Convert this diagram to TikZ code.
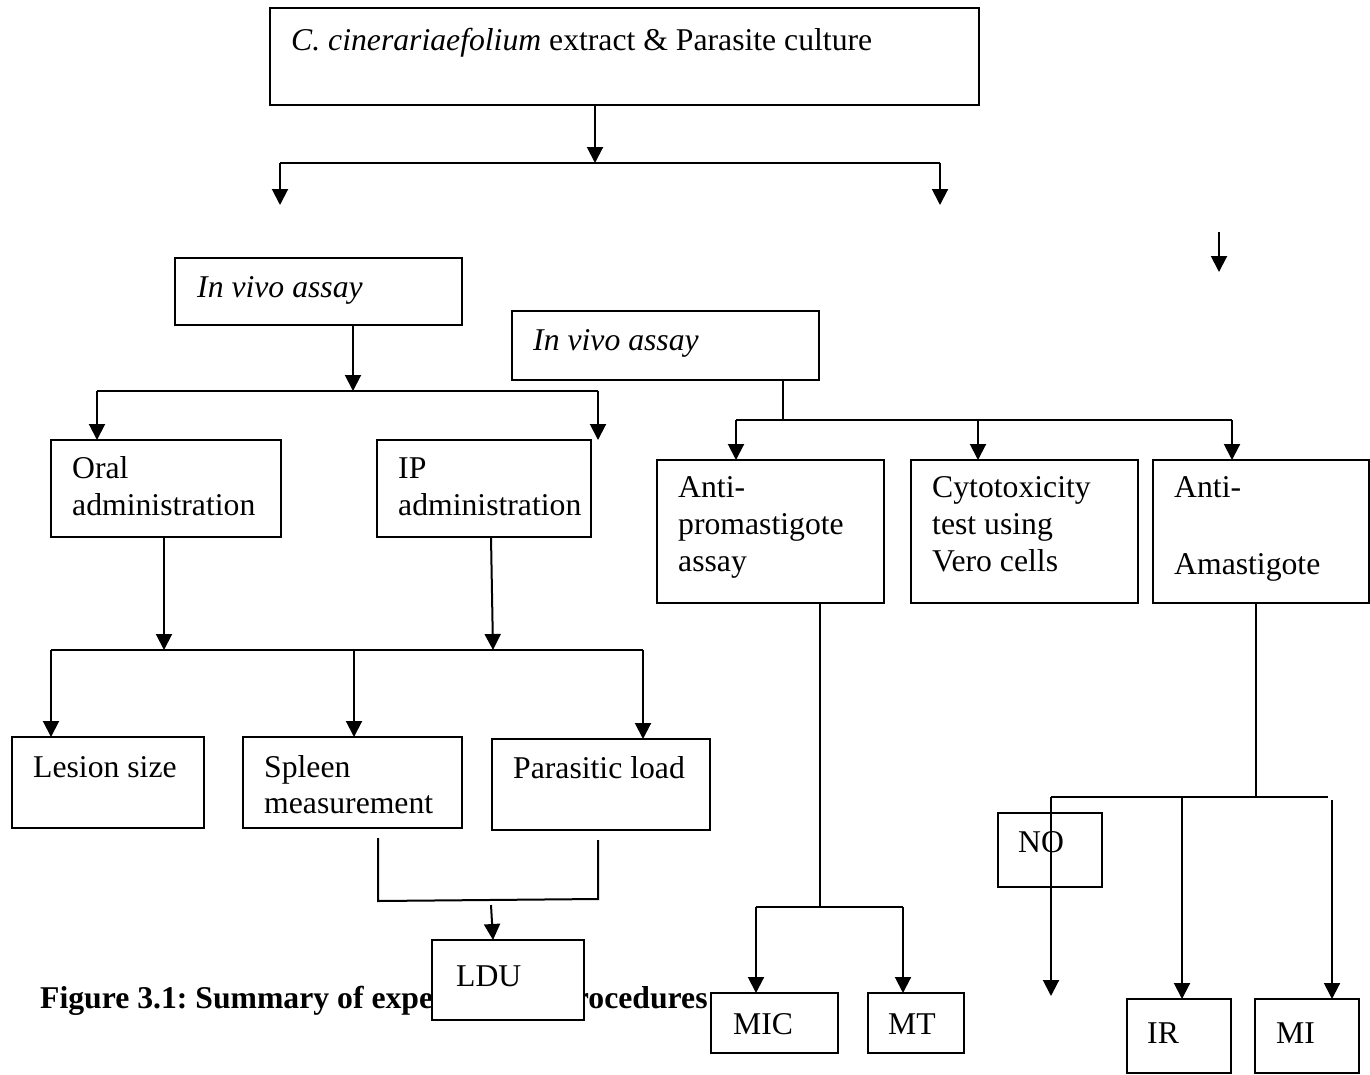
\documentclass[tikz,border=0pt]{standalone}
\usepackage{fontspec}
\setmainfont{Liberation Serif}
\usetikzlibrary{arrows.meta}
\frenchspacing
\begin{document}
\begin{tikzpicture}[x=1pt,y=-1pt,
  every node/.style={font=\fontsize{31.7}{38}\selectfont},
  bx/.style={draw,line width=2pt,fill=white,inner sep=0pt,outer sep=0pt,anchor=north west},
  txt/.style={anchor=base west,inner sep=0pt},
  ln/.style={line width=2pt},
  arr/.style={line width=2pt,-{Triangle[length=16pt,width=16pt]}}]
\newcommand\bx[5]{\node[bx,minimum width={#4-#2},minimum height={#5-#3}] (#1) at (#2,#3) {};}
\useasboundingbox (0,0) rectangle (1370,1074);

% top
\bx{top}{270}{8}{979}{105}
\node[txt] (ttop) at (291,50) {\textit{C. cinerariaefolium} extract \& Parasite culture};
\coordinate (j1) at (595,163);
\coordinate (hL) at (280,163); \coordinate (hR) at (940,163);
\coordinate (tL) at (280,205); \coordinate (tR) at (940,205);
\draw[arr] (top.south -| j1) -- (j1);
\draw[ln] (hL) -- (hR);
\draw[arr] (hL) -- (tL);
\draw[arr] (hR) -- (tR);
\coordinate (s1) at (1219,232); \coordinate (s2) at (1219,272);
\draw[arr] (s1) -- (s2);

% in vivo 1
\bx{ivo1}{175}{258}{462}{325}
\node[txt] (tivo1) at (197,297) {\textit{In vivo assay}};
\coordinate (j2) at (353,391);
\coordinate (j2L) at (97,391); \coordinate (j2R) at (598,391);
\bx{oral}{51}{440}{281}{537}
\bx{ip}{377}{440}{591}{537}
\draw[arr] (ivo1.south -| j2) -- (j2);
\draw[ln] (j2L) -- (j2R);
\draw[arr] (j2L) -- (j2L |- oral.north);
\draw[arr] (j2R) -- (j2R |- ip.north);
\node[txt] (toral1) at (72,478) {Oral};
\node[txt] (toral2) at (72,515) {administration};
\node[txt] (tip1) at (398,478) {IP};
\node[txt] (tip2) at (398,515) {administration};

% in vivo 2
\bx{ivo2}{512}{311}{819}{380}
\node[txt] (tivo2) at (533,350) {\textit{In vivo assay}};
\coordinate (j3) at (783,420);
\coordinate (j3L) at (736,420); \coordinate (j3M) at (978,420); \coordinate (j3R) at (1232,420);
\bx{ap}{657}{460}{884}{603}
\bx{cy}{911}{460}{1138}{603}
\bx{aa}{1153}{460}{1369}{603}
\draw[ln] (ivo2.south -| j3) -- (j3);
\draw[ln] (j3L) -- (j3R);
\draw[arr] (j3L) -- (j3L |- ap.north);
\draw[arr] (j3M) -- (j3M |- cy.north);
\draw[arr] (j3R) -- (j3R |- aa.north);
\node[txt] (tap1) at (678,497) {Anti-};
\node[txt] (tap2) at (678,534) {promastigote};
\node[txt] (tap3) at (678,571) {assay};
\node[txt] (tcy1) at (932,497) {Cytotoxicity};
\node[txt] (tcy2) at (932,534) {test using};
\node[txt] (tcy3) at (932,571) {Vero cells};
\node[txt] (taa1) at (1174,497) {Anti-};
\node[txt] (taa2) at (1174,574) {Amastigote};

% oral / ip merge
\coordinate (j4a) at (164,650); \coordinate (j4b) at (493,650);
\coordinate (j4L) at (51,650); \coordinate (j4M) at (354,650); \coordinate (j4R) at (643,650);
\bx{les}{12}{737}{204}{828}
\bx{spl}{243}{737}{462}{828}
\bx{par}{492}{739}{710}{830}
\draw[arr] (oral.south -| j4a) -- (j4a);
\draw[arr] (491,537) -- (j4b);
\draw[ln] (j4L) -- (j4R);
\draw[arr] (j4L) -- (j4L |- les.north);
\draw[arr] (j4M) -- (j4M |- spl.north);
\draw[arr] (j4R) -- (j4R |- par.north);
\node[txt] (tles) at (33,777) {Lesion size};
\node[txt] (tspl1) at (264,777) {Spleen};
\node[txt] (tspl2) at (264,813) {measurement};
\node[txt] (tpar) at (513,778) {Parasitic load};

% LDU
\coordinate (k1) at (378,838); \coordinate (k1b) at (378,901);
\coordinate (k2) at (598,840); \coordinate (k2b) at (598,899);
\coordinate (k3) at (491,905);
\draw[ln] (k1) -- (k1b) -- (k2b) -- (k2);
\node[txt,font=\fontsize{31.7}{38}\selectfont\bfseries] (cap) at (40,1008) {Figure 3.1: Summary of experimental procedures};
\bx{ldu}{432}{940}{584}{1020}
\draw[arr] (k3) -- (493,940);
\node[txt] (tldu) at (456,986) {LDU};

% MIC / MT
\coordinate (m0) at (820,907);
\coordinate (mL) at (756,907); \coordinate (mR) at (903,907);
\bx{mic}{711}{993}{838}{1053}
\bx{mt}{868}{993}{964}{1053}
\draw[ln] (ap.south -| m0) -- (m0);
\draw[ln] (mL) -- (mR);
\draw[arr] (mL) -- (mL |- mic.north);
\draw[arr] (mR) -- (mR |- mt.north);
\node[txt] (tmic) at (733,1034) {MIC};
\node[txt] (tmt) at (888,1034) {MT};

% NO / IR / MI
\coordinate (n0) at (1256,797);
\coordinate (nL) at (1051,797); \coordinate (nM) at (1182,797); \coordinate (nR) at (1328,797);
\coordinate (nRt) at (1332,800); \coordinate (nLe) at (1051,996);
\bx{no}{998}{813}{1102}{887}
\node[txt] (tno) at (1018,852) {NO};
\bx{ir}{1127}{999}{1231}{1073}
\bx{mi}{1255}{999}{1359}{1073}
\draw[ln] (aa.south -| n0) -- (n0);
\draw[ln] (nL) -- (nR);
\draw[arr] (nL) -- (nLe);
\draw[arr] (nM) -- (nM |- ir.north);
\draw[arr] (nRt) -- (nRt |- mi.north);
\node[txt] (tir) at (1147,1043) {IR};
\node[txt] (tmi) at (1276,1043) {MI};
\end{tikzpicture}
\end{document}
